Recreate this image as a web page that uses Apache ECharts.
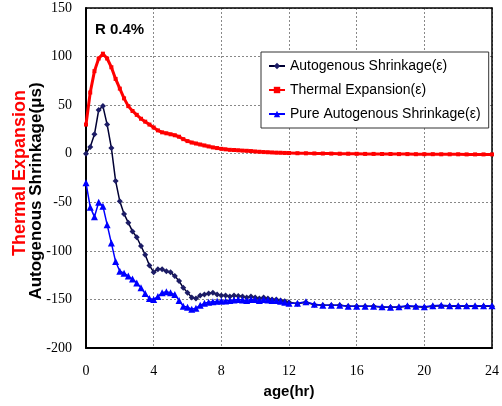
<!DOCTYPE html>
<html>
<head>
<meta charset="utf-8">
<script src="https://cdn.jsdelivr.net/npm/echarts@6/dist/echarts.min.js"></script>
<style>
html, body { margin: 0; padding: 0; background: #fff; }
#chart { width: 502px; height: 406px; }
</style>
</head>
<body>
<div id="chart"></div>
<script>
// 時間 (hr)
var hours = [0, 0.25, 0.5, 0.75, 1, 1.25, 1.5, 1.75, 2, 2.25, 2.5, 2.75, 3, 3.25, 3.5, 3.75,
  4, 4.25, 4.5, 4.75, 5, 5.25, 5.5, 5.75, 6, 6.25, 6.5, 6.75, 7, 7.25, 7.5, 7.75,
  8, 8.25, 8.5, 8.75, 9, 9.25, 9.5, 9.75, 10, 10.25, 10.5, 10.75, 11, 11.25, 11.5, 11.75,
  12, 12.5, 13, 13.5, 14, 14.5, 15, 15.5, 16, 16.5, 17, 17.5, 18, 18.5, 19, 19.5,
  20, 20.5, 21, 21.5, 22, 22.5, 23, 23.5, 24];

var autogenous = [0, 7, 20, 45, 49, 30, 6, -28, -49, -62, -71, -80, -86, -95, -104, -115,
  -122, -119, -119, -121, -122, -126, -131, -138, -143, -148, -149, -146, -145, -144, -143, -145,
  -146, -146, -147, -146, -146.5, -147, -148, -147, -148, -149, -148, -149, -150, -150, -151, -152,
  -153, -154.5, -153, -155.5, -156, -156, -156, -157, -157, -157, -157, -158, -158, -158, -157, -157.5,
  -158, -157, -156.5, -157, -157, -157, -157, -157, -157];

var thermal = [30, 63, 85, 98, 103, 98, 89, 77, 67, 57, 49, 44, 40, 36, 33, 30,
  27, 24, 22, 21, 20, 19, 17.5, 15, 13, 11.5, 10.5, 9.5, 8.5, 7.5, 6.5, 5.8,
  5, 4.5, 4, 3.8, 3.5, 3.2, 3, 2.7, 2.3, 2, 1.7, 1.5, 1.3, 1.1, 1, 0.8,
  0.7, 0.5, 0.4, 0.3, 0.2, 0.1, 0, 0, -0.1, -0.2, -0.2, -0.3, -0.3, -0.4, -0.4, -0.5,
  -0.5, -0.5, -0.6, -0.6, -0.6, -0.7, -0.7, -0.7, -0.7];

var pure = [-30, -55, -65, -50, -54, -73, -92, -111, -121, -123, -126, -129, -133, -138, -144, -149,
  -150, -147, -143, -142, -143, -145, -151, -157, -158, -160, -159, -156, -154, -153, -152.5, -152,
  -151.5, -151.5, -151, -150.5, -150, -150.5, -151, -150, -150, -151, -150, -150.5, -151, -151, -152, -153,
  -154, -154, -152.5, -155, -156, -156, -156, -157, -157, -157, -157, -157.5, -158, -157.5, -156.5, -157,
  -157.5, -156.5, -156, -156.5, -156.5, -156.5, -156.5, -156.5, -156.5];

var seriesNames = ['Autogenous Shrinkage(ε)', 'Thermal Expansion(ε)', 'Pure Autogenous Shrinkage(ε)'];

function pairs(vals) {
  return hours.map(function (h, i) { return [h, vals[i]]; });
}

var chart = echarts.init(document.getElementById('chart'));
var tickFont = 'Liberation Serif';
var labelFont = '"Liberation Sans", sans-serif';
var gridDots = { lineStyle: { color: '#888', type: [2, 2], width: 1 } };

chart.setOption({
  animation: false,
  backgroundColor: '#fff',
  grid: { left: 86, right: 2, top: 8, bottom: 58 },
  legend: {
    data: seriesNames,
    orient: 'vertical',
    left: 261, top: 52,
    width: 230,
    padding: [5, 8, 5, 7],
    itemGap: 6,
    itemWidth: 16, itemHeight: 8,
    backgroundColor: '#fff',
    borderColor: '#333', borderWidth: 1,
    textStyle: { fontFamily: labelFont, fontSize: 14, lineHeight: 18, color: '#000' }
  },
  xAxis: [
    {
      type: 'value', min: 0, max: 24, interval: 4,
      name: 'age(hr)', nameLocation: 'middle', nameGap: 36,
      nameTextStyle: { fontFamily: labelFont, fontSize: 15, fontWeight: 'bold', color: '#000' },
      axisLine: { onZero: false, lineStyle: { color: '#000', width: 2 } },
      axisTick: { show: false },
      axisLabel: { margin: 16, fontFamily: tickFont, fontSize: 14, color: '#000' },
      splitLine: gridDots
    },
    {
      // 上の枠線
      type: 'value', position: 'top', min: 0, max: 24, interval: 4,
      axisLine: { show: true, onZero: false, lineStyle: { color: '#000', width: 1.5 } },
      axisTick: { show: false }, axisLabel: { show: false }, splitLine: { show: false }
    }
  ],
  yAxis: [
    {
      type: 'value', min: -200, max: 150, interval: 50,
      axisLine: { show: true, onZero: false, lineStyle: { color: '#000', width: 2 } },
      axisTick: { show: false },
      axisLabel: { margin: 14, fontFamily: tickFont, fontSize: 14, color: '#000' },
      splitLine: gridDots
    },
    {
      // 右の枠線
      type: 'value', position: 'right', min: -200, max: 150, interval: 50,
      axisLine: { show: true, onZero: false, lineStyle: { color: '#000', width: 1.5 } },
      axisTick: { show: false }, axisLabel: { show: false }, splitLine: { show: false }
    }
  ],
  graphic: [
    {
      type: 'text', left: 95, top: 22,
      style: { text: 'R 0.4%', font: 'bold 15px "Liberation Sans", sans-serif', fill: '#000' }
    },
    {
      type: 'text', x: 20, y: 173, rotation: Math.PI / 2,
      style: { text: 'Thermal Expansion', font: 'bold 18px "Liberation Sans", sans-serif',
        fill: '#ff0000', align: 'center', verticalAlign: 'middle' }
    },
    {
      type: 'text', x: 36, y: 191, rotation: Math.PI / 2,
      style: { text: 'Autogenous Shrinkage(μs)', font: 'bold 17px "Liberation Sans", sans-serif',
        fill: '#000', align: 'center', verticalAlign: 'middle' }
    }
  ],
  series: [
    {
      name: seriesNames[0], type: 'line', data: pairs(autogenous),
      symbol: 'diamond', symbolSize: 6,
      lineStyle: { color: '#000033', width: 1.5 },
      itemStyle: { color: '#1c1c66' }
    },
    {
      name: seriesNames[1], type: 'line', data: pairs(thermal),
      symbol: 'rect', symbolSize: 4,
      lineStyle: { color: '#ff0000', width: 3 },
      itemStyle: { color: '#ff0000' }
    },
    {
      name: seriesNames[2], type: 'line', data: pairs(pure),
      symbol: 'triangle', symbolSize: 7,
      lineStyle: { color: '#0000ff', width: 1.5 },
      itemStyle: { color: '#0000ff' }
    }
  ]
});
</script>
</body>
</html>
